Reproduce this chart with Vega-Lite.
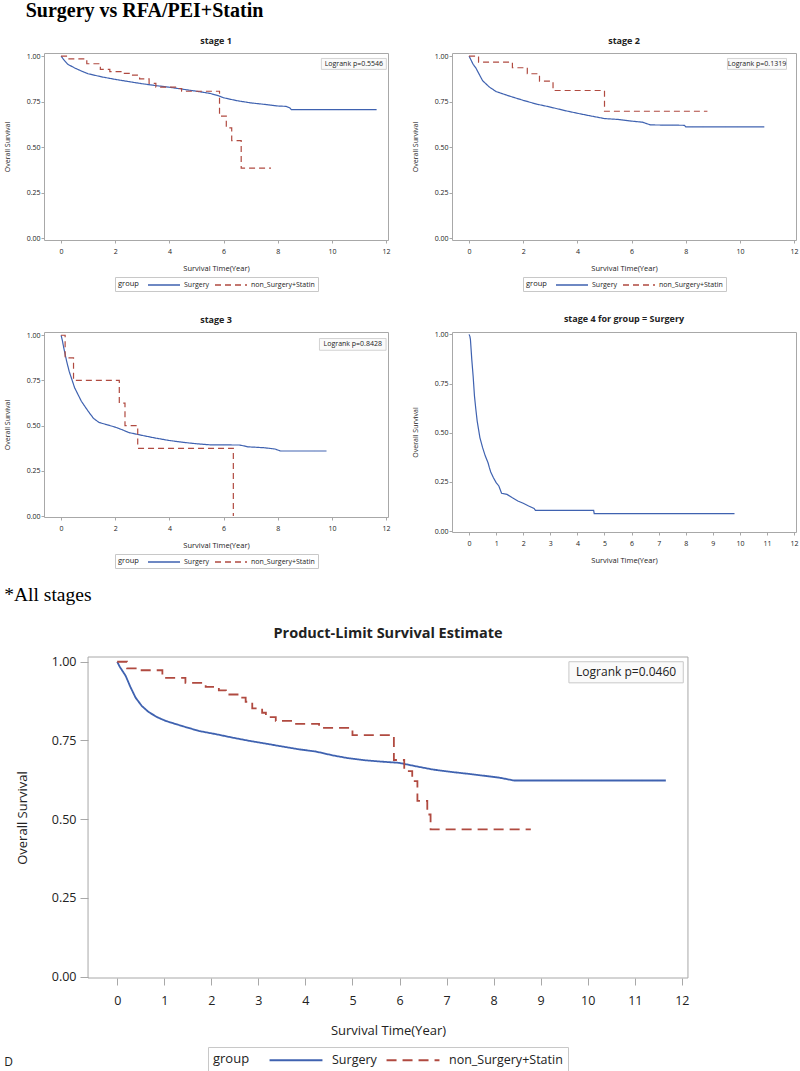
{
  "$schema": "https://vega.github.io/schema/vega-lite/v6.json",
  "padding": {"left": 2, "top": 0, "right": 0, "bottom": 0},
  "background": "white",
  "title": {"text": "Surgery vs RFA/PEI+Statin", "anchor": "start", "font": "Liberation Serif", "fontSize": 20, "fontWeight": "bold", "color": "#000", "dx": 23, "offset": 16},
  "config": {
    "font": "Open Sans",
    "view": {"stroke": "#a8a8a8", "strokeWidth": 1},
    "axis": {"domain": false, "grid": false, "tickColor": "#a8a8a8", "labelColor": "#222", "titleColor": "#222", "titleFontWeight": "normal", "labelFont": "Open Sans", "titleFont": "Open Sans"},
    "legend": {"layout": {"bottom": {"anchor": "middle"}}},
    "title": {"font": "Open Sans", "fontWeight": "bold", "color": "#222"}
  },
  "datasets": {
    "s1": [
      {"group": "Surgery", "t": 0, "s": 1}, {"group": "Surgery", "t": 0.1, "s": 0.98}, {"group": "Surgery", "t": 0.25, "s": 0.955}, {"group": "Surgery", "t": 0.5, "s": 0.935}, {"group": "Surgery", "t": 0.75, "s": 0.918}, {"group": "Surgery", "t": 1, "s": 0.903}, {"group": "Surgery", "t": 1.5, "s": 0.886}, {"group": "Surgery", "t": 2, "s": 0.872}, {"group": "Surgery", "t": 2.5, "s": 0.86}, {"group": "Surgery", "t": 3, "s": 0.848}, {"group": "Surgery", "t": 3.5, "s": 0.838}, {"group": "Surgery", "t": 4, "s": 0.829}, {"group": "Surgery", "t": 4.5, "s": 0.818}, {"group": "Surgery", "t": 5, "s": 0.807}, {"group": "Surgery", "t": 5.5, "s": 0.795}, {"group": "Surgery", "t": 5.8, "s": 0.783}, {"group": "Surgery", "t": 6, "s": 0.771}, {"group": "Surgery", "t": 6.5, "s": 0.755}, {"group": "Surgery", "t": 7, "s": 0.743}, {"group": "Surgery", "t": 7.5, "s": 0.735}, {"group": "Surgery", "t": 8, "s": 0.726}, {"group": "Surgery", "t": 8.3, "s": 0.724}, {"group": "Surgery", "t": 8.45, "s": 0.715}, {"group": "Surgery", "t": 8.5, "s": 0.706}, {"group": "Surgery", "t": 11.65, "s": 0.706},
      {"group": "non_Surgery+Statin", "t": 0, "s": 1}, {"group": "non_Surgery+Statin", "t": 0.25, "s": 0.985}, {"group": "non_Surgery+Statin", "t": 0.95, "s": 0.958}, {"group": "non_Surgery+Statin", "t": 1.45, "s": 0.927}, {"group": "non_Surgery+Statin", "t": 1.8, "s": 0.915}, {"group": "non_Surgery+Statin", "t": 2.3, "s": 0.905}, {"group": "non_Surgery+Statin", "t": 2.6, "s": 0.895}, {"group": "non_Surgery+Statin", "t": 2.9, "s": 0.875}, {"group": "non_Surgery+Statin", "t": 3.25, "s": 0.85}, {"group": "non_Surgery+Statin", "t": 3.5, "s": 0.83}, {"group": "non_Surgery+Statin", "t": 4.3, "s": 0.822}, {"group": "non_Surgery+Statin", "t": 4.45, "s": 0.807}, {"group": "non_Surgery+Statin", "t": 5.85, "s": 0.67}, {"group": "non_Surgery+Statin", "t": 6.1, "s": 0.606}, {"group": "non_Surgery+Statin", "t": 6.3, "s": 0.536}, {"group": "non_Surgery+Statin", "t": 6.65, "s": 0.385}, {"group": "non_Surgery+Statin", "t": 7.75, "s": 0.385}
    ],
    "s2": [
      {"group": "Surgery", "t": 0, "s": 1}, {"group": "Surgery", "t": 0.05, "s": 0.985}, {"group": "Surgery", "t": 0.15, "s": 0.955}, {"group": "Surgery", "t": 0.25, "s": 0.935}, {"group": "Surgery", "t": 0.5, "s": 0.865}, {"group": "Surgery", "t": 0.75, "s": 0.83}, {"group": "Surgery", "t": 1, "s": 0.805}, {"group": "Surgery", "t": 1.5, "s": 0.78}, {"group": "Surgery", "t": 2, "s": 0.757}, {"group": "Surgery", "t": 2.5, "s": 0.736}, {"group": "Surgery", "t": 3, "s": 0.72}, {"group": "Surgery", "t": 3.5, "s": 0.702}, {"group": "Surgery", "t": 4, "s": 0.686}, {"group": "Surgery", "t": 4.5, "s": 0.671}, {"group": "Surgery", "t": 5, "s": 0.657}, {"group": "Surgery", "t": 5.5, "s": 0.652}, {"group": "Surgery", "t": 6, "s": 0.643}, {"group": "Surgery", "t": 6.4, "s": 0.637}, {"group": "Surgery", "t": 6.7, "s": 0.622}, {"group": "Surgery", "t": 7.95, "s": 0.62}, {"group": "Surgery", "t": 8.0, "s": 0.611}, {"group": "Surgery", "t": 10.9, "s": 0.611},
      {"group": "non_Surgery+Statin", "t": 0, "s": 1}, {"group": "non_Surgery+Statin", "t": 0.35, "s": 0.967}, {"group": "non_Surgery+Statin", "t": 1.6, "s": 0.936}, {"group": "non_Surgery+Statin", "t": 2.15, "s": 0.903}, {"group": "non_Surgery+Statin", "t": 2.6, "s": 0.862}, {"group": "non_Surgery+Statin", "t": 3.1, "s": 0.811}, {"group": "non_Surgery+Statin", "t": 5.0, "s": 0.697}, {"group": "non_Surgery+Statin", "t": 8.8, "s": 0.697}
    ],
    "s3": [
      {"group": "Surgery", "t": 0, "s": 1}, {"group": "Surgery", "t": 0.05, "s": 0.97}, {"group": "Surgery", "t": 0.1, "s": 0.93}, {"group": "Surgery", "t": 0.2, "s": 0.86}, {"group": "Surgery", "t": 0.3, "s": 0.8}, {"group": "Surgery", "t": 0.4, "s": 0.755}, {"group": "Surgery", "t": 0.5, "s": 0.71}, {"group": "Surgery", "t": 0.75, "s": 0.635}, {"group": "Surgery", "t": 1.0, "s": 0.58}, {"group": "Surgery", "t": 1.2, "s": 0.54}, {"group": "Surgery", "t": 1.4, "s": 0.518}, {"group": "Surgery", "t": 1.7, "s": 0.505}, {"group": "Surgery", "t": 2, "s": 0.492}, {"group": "Surgery", "t": 2.3, "s": 0.475}, {"group": "Surgery", "t": 2.5, "s": 0.462}, {"group": "Surgery", "t": 3, "s": 0.446}, {"group": "Surgery", "t": 3.5, "s": 0.431}, {"group": "Surgery", "t": 4, "s": 0.418}, {"group": "Surgery", "t": 4.5, "s": 0.408}, {"group": "Surgery", "t": 5, "s": 0.4}, {"group": "Surgery", "t": 5.5, "s": 0.394}, {"group": "Surgery", "t": 6.6, "s": 0.393}, {"group": "Surgery", "t": 6.9, "s": 0.383}, {"group": "Surgery", "t": 7.5, "s": 0.378}, {"group": "Surgery", "t": 7.9, "s": 0.371}, {"group": "Surgery", "t": 8.1, "s": 0.36}, {"group": "Surgery", "t": 9.8, "s": 0.36},
      {"group": "non_Surgery+Statin", "t": 0, "s": 1}, {"group": "non_Surgery+Statin", "t": 0.15, "s": 0.875}, {"group": "non_Surgery+Statin", "t": 0.46, "s": 0.75}, {"group": "non_Surgery+Statin", "t": 2.15, "s": 0.625}, {"group": "non_Surgery+Statin", "t": 2.36, "s": 0.5}, {"group": "non_Surgery+Statin", "t": 2.83, "s": 0.375}, {"group": "non_Surgery+Statin", "t": 6.36, "s": 0}
    ],
    "s4": [
      {"group": "Surgery", "t": 0, "s": 1}, {"group": "Surgery", "t": 0.03, "s": 0.99}, {"group": "Surgery", "t": 0.05, "s": 0.975}, {"group": "Surgery", "t": 0.1, "s": 0.873}, {"group": "Surgery", "t": 0.15, "s": 0.788}, {"group": "Surgery", "t": 0.2, "s": 0.686}, {"group": "Surgery", "t": 0.25, "s": 0.619}, {"group": "Surgery", "t": 0.3, "s": 0.559}, {"group": "Surgery", "t": 0.35, "s": 0.517}, {"group": "Surgery", "t": 0.4, "s": 0.475}, {"group": "Surgery", "t": 0.5, "s": 0.424}, {"group": "Surgery", "t": 0.6, "s": 0.381}, {"group": "Surgery", "t": 0.7, "s": 0.347}, {"group": "Surgery", "t": 0.75, "s": 0.322}, {"group": "Surgery", "t": 0.8, "s": 0.3}, {"group": "Surgery", "t": 0.9, "s": 0.271}, {"group": "Surgery", "t": 1.0, "s": 0.246}, {"group": "Surgery", "t": 1.1, "s": 0.229}, {"group": "Surgery", "t": 1.2, "s": 0.192}, {"group": "Surgery", "t": 1.4, "s": 0.186}, {"group": "Surgery", "t": 1.6, "s": 0.169}, {"group": "Surgery", "t": 1.8, "s": 0.153}, {"group": "Surgery", "t": 2.0, "s": 0.141}, {"group": "Surgery", "t": 2.2, "s": 0.127}, {"group": "Surgery", "t": 2.4, "s": 0.115}, {"group": "Surgery", "t": 2.45, "s": 0.105}, {"group": "Surgery", "t": 4.6, "s": 0.105}, {"group": "Surgery", "t": 4.62, "s": 0.088}, {"group": "Surgery", "t": 9.8, "s": 0.088}
    ],
    "all": [
      {"group": "Surgery", "t": 0, "s": 1}, {"group": "Surgery", "t": 0.05, "s": 0.985}, {"group": "Surgery", "t": 0.18, "s": 0.955}, {"group": "Surgery", "t": 0.28, "s": 0.92}, {"group": "Surgery", "t": 0.39, "s": 0.886}, {"group": "Surgery", "t": 0.52, "s": 0.86}, {"group": "Surgery", "t": 0.67, "s": 0.84}, {"group": "Surgery", "t": 0.85, "s": 0.824}, {"group": "Surgery", "t": 1.03, "s": 0.812}, {"group": "Surgery", "t": 1.4, "s": 0.795}, {"group": "Surgery", "t": 1.74, "s": 0.78}, {"group": "Surgery", "t": 2.1, "s": 0.77}, {"group": "Surgery", "t": 2.45, "s": 0.759}, {"group": "Surgery", "t": 2.8, "s": 0.749}, {"group": "Surgery", "t": 3.16, "s": 0.74}, {"group": "Surgery", "t": 3.5, "s": 0.731}, {"group": "Surgery", "t": 3.86, "s": 0.722}, {"group": "Surgery", "t": 4.22, "s": 0.715}, {"group": "Surgery", "t": 4.57, "s": 0.703}, {"group": "Surgery", "t": 4.9, "s": 0.694}, {"group": "Surgery", "t": 5.28, "s": 0.687}, {"group": "Surgery", "t": 5.6, "s": 0.683}, {"group": "Surgery", "t": 5.99, "s": 0.679}, {"group": "Surgery", "t": 6.35, "s": 0.668}, {"group": "Surgery", "t": 6.7, "s": 0.658}, {"group": "Surgery", "t": 7.05, "s": 0.651}, {"group": "Surgery", "t": 7.41, "s": 0.645}, {"group": "Surgery", "t": 7.8, "s": 0.638}, {"group": "Surgery", "t": 8.12, "s": 0.632}, {"group": "Surgery", "t": 8.43, "s": 0.623}, {"group": "Surgery", "t": 11.66, "s": 0.623},
      {"group": "non_Surgery+Statin", "t": 0, "s": 1}, {"group": "non_Surgery+Statin", "t": 0.21, "s": 0.979}, {"group": "non_Surgery+Statin", "t": 0.45, "s": 0.973}, {"group": "non_Surgery+Statin", "t": 0.96, "s": 0.949}, {"group": "non_Surgery+Statin", "t": 1.45, "s": 0.933}, {"group": "non_Surgery+Statin", "t": 1.88, "s": 0.92}, {"group": "non_Surgery+Statin", "t": 2.16, "s": 0.909}, {"group": "non_Surgery+Statin", "t": 2.31, "s": 0.896}, {"group": "non_Surgery+Statin", "t": 2.59, "s": 0.886}, {"group": "non_Surgery+Statin", "t": 2.73, "s": 0.873}, {"group": "non_Surgery+Statin", "t": 2.87, "s": 0.852}, {"group": "non_Surgery+Statin", "t": 3.08, "s": 0.838}, {"group": "non_Surgery+Statin", "t": 3.16, "s": 0.824}, {"group": "non_Surgery+Statin", "t": 3.37, "s": 0.812}, {"group": "non_Surgery+Statin", "t": 3.73, "s": 0.803}, {"group": "non_Surgery+Statin", "t": 4.29, "s": 0.79}, {"group": "non_Surgery+Statin", "t": 5.0, "s": 0.767}, {"group": "non_Surgery+Statin", "t": 5.88, "s": 0.688}, {"group": "non_Surgery+Statin", "t": 6.1, "s": 0.653}, {"group": "non_Surgery+Statin", "t": 6.27, "s": 0.621}, {"group": "non_Surgery+Statin", "t": 6.38, "s": 0.558}, {"group": "non_Surgery+Statin", "t": 6.59, "s": 0.515}, {"group": "non_Surgery+Statin", "t": 6.66, "s": 0.468}, {"group": "non_Surgery+Statin", "t": 8.79, "s": 0.468}
    ]
  },
  "resolve": {"scale": {"color": "independent", "strokeDash": "independent"}},
  "spacing": 15,
  "vconcat": [
    {
      "spacing": 22,
      "resolve": {"scale": {"color": "independent", "strokeDash": "independent"}},
      "vconcat": [
        {
          "spacing": 19,
          "resolve": {"scale": {"color": "independent", "strokeDash": "independent"}},
          "hconcat": [
            {
              "width": 344, "height": 187,
              "title": {"text": "stage 1", "fontSize": 9, "offset": 6},
              "layer": [
                {"data": {"values": [{"label": "Logrank p=0.5546"}]}, "mark": {"type": "rect", "fill": "#fafafa", "stroke": "#c8c8c8", "strokeWidth": 0.8}, "encoding": {"x": {"datum": 9.61, "type": "quantitative", "title": "Survival Time(Year)"}, "x2": {"datum": 12.01}, "y": {"datum": 0.987, "type": "quantitative", "title": "Overall Survival"}, "y2": {"datum": 0.927}}},
                {"data": {"values": [{"label": "Logrank p=0.5546"}]}, "mark": {"type": "text", "fontSize": 7, "color": "#222"}, "encoding": {"x": {"datum": 10.81, "type": "quantitative", "title": "Survival Time(Year)"}, "y": {"datum": 0.957, "type": "quantitative", "title": "Overall Survival"}, "text": {"field": "label"}}},
                {"data": {"name": "s1"}, "transform": [{"filter": "datum.group === 'Surgery'"}], "mark": {"type": "line", "strokeWidth": 1.2}, "encoding": {
                  "x": {"field": "t", "type": "quantitative", "scale": {"domain": [-0.63, 12.07], "nice": false, "zero": false}, "axis": {"values": [0,1,2,3,4,5,6,7,8,9,10,11,12], "title": "Survival Time(Year)", "tickSize": 3, "labelPadding": 4, "labelFontSize": 7, "titleFontSize": 7.5, "titlePadding": 10, "labelFlush": false}},
                  "y": {"field": "s", "type": "quantitative", "scale": {"domain": [-0.01, 1.017], "nice": false, "zero": false}, "axis": {"values": [0, 0.25, 0.5, 0.75, 1], "format": ".2f", "title": "Overall Survival", "tickSize": 3, "labelPadding": 1, "labelFontSize": 7, "titleFontSize": 7, "titlePadding": 16}},
                  "color": {"field": "group", "type": "nominal", "scale": {"domain": ["Surgery", "non_Surgery+Statin"], "range": ["#3f62b0", "#b04a40"]}, "legend": {"orient": "bottom", "direction": "horizontal", "title": "group", "titleOrient": "left", "titleAnchor": "middle", "titleBaseline": "middle", "titleFontSize": 7.5, "titleFontWeight": "normal", "titleColor": "#222", "labelFontSize": 7, "labelColor": "#222", "symbolType": "M-4,0H4", "symbolSize": 64, "symbolStrokeWidth": 1.3, "strokeColor": "#c8c8c8", "padding": 3, "offset": 5, "columnPadding": 2, "labelOffset": 15, "titlePadding": 20}},
                  "strokeDash": {"field": "group", "type": "nominal", "scale": {"domain": ["Surgery", "non_Surgery+Statin"], "range": [[1, 0], [6, 4]]}, "legend": {"orient": "bottom", "direction": "horizontal", "title": "group", "titleOrient": "left", "titleAnchor": "middle", "titleBaseline": "middle", "titleFontSize": 7.5, "titleFontWeight": "normal", "titleColor": "#222", "labelFontSize": 7, "labelColor": "#222", "symbolType": "M-4,0H4", "symbolSize": 64, "symbolStrokeWidth": 1.3, "strokeColor": "#c8c8c8", "padding": 3, "offset": 5, "columnPadding": 2, "labelOffset": 15, "titlePadding": 20}}
                }},
                {"data": {"name": "s1"}, "transform": [{"filter": "datum.group !== 'Surgery'"}], "mark": {"type": "line", "strokeWidth": 1.2, "interpolate": "step-after"}, "encoding": {
                  "x": {"field": "t", "type": "quantitative"},
                  "y": {"field": "s", "type": "quantitative"},
                  "color": {"field": "group", "type": "nominal"},
                  "strokeDash": {"field": "group", "type": "nominal"}
                }}
              ]
            },
            {
              "width": 344, "height": 187,
              "title": {"text": "stage 2", "fontSize": 9, "offset": 6},
              "layer": [
                {"data": {"values": [{"label": "Logrank p=0.1319"}]}, "mark": {"type": "rect", "fill": "#fafafa", "stroke": "#c8c8c8", "strokeWidth": 0.8}, "encoding": {"x": {"datum": 9.54, "type": "quantitative", "title": "Survival Time(Year)"}, "x2": {"datum": 11.72}, "y": {"datum": 0.987, "type": "quantitative", "title": "Overall Survival"}, "y2": {"datum": 0.927}}},
                {"data": {"values": [{"label": "Logrank p=0.1319"}]}, "mark": {"type": "text", "fontSize": 7, "color": "#222"}, "encoding": {"x": {"datum": 10.63, "type": "quantitative", "title": "Survival Time(Year)"}, "y": {"datum": 0.957, "type": "quantitative", "title": "Overall Survival"}, "text": {"field": "label"}}},
                {"data": {"name": "s2"}, "transform": [{"filter": "datum.group === 'Surgery'"}], "mark": {"type": "line", "strokeWidth": 1.2}, "encoding": {
                  "x": {"field": "t", "type": "quantitative", "scale": {"domain": [-0.63, 12.07], "nice": false, "zero": false}, "axis": {"values": [0,1,2,3,4,5,6,7,8,9,10,11,12], "title": "Survival Time(Year)", "tickSize": 3, "labelPadding": 4, "labelFontSize": 7, "titleFontSize": 7.5, "titlePadding": 10, "labelFlush": false}},
                  "y": {"field": "s", "type": "quantitative", "scale": {"domain": [-0.01, 1.017], "nice": false, "zero": false}, "axis": {"values": [0, 0.25, 0.5, 0.75, 1], "format": ".2f", "title": "Overall Survival", "tickSize": 3, "labelPadding": 1, "labelFontSize": 7, "titleFontSize": 7, "titlePadding": 16}},
                  "color": {"field": "group", "type": "nominal", "scale": {"domain": ["Surgery", "non_Surgery+Statin"], "range": ["#3f62b0", "#b04a40"]}, "legend": {"orient": "bottom", "direction": "horizontal", "title": "group", "titleOrient": "left", "titleAnchor": "middle", "titleBaseline": "middle", "titleFontSize": 7.5, "titleFontWeight": "normal", "titleColor": "#222", "labelFontSize": 7, "labelColor": "#222", "symbolType": "M-4,0H4", "symbolSize": 64, "symbolStrokeWidth": 1.3, "strokeColor": "#c8c8c8", "padding": 3, "offset": 5, "columnPadding": 2, "labelOffset": 15, "titlePadding": 20}},
                  "strokeDash": {"field": "group", "type": "nominal", "scale": {"domain": ["Surgery", "non_Surgery+Statin"], "range": [[1, 0], [6, 4]]}, "legend": {"orient": "bottom", "direction": "horizontal", "title": "group", "titleOrient": "left", "titleAnchor": "middle", "titleBaseline": "middle", "titleFontSize": 7.5, "titleFontWeight": "normal", "titleColor": "#222", "labelFontSize": 7, "labelColor": "#222", "symbolType": "M-4,0H4", "symbolSize": 64, "symbolStrokeWidth": 1.3, "strokeColor": "#c8c8c8", "padding": 3, "offset": 5, "columnPadding": 2, "labelOffset": 15, "titlePadding": 20}}
                }},
                {"data": {"name": "s2"}, "transform": [{"filter": "datum.group !== 'Surgery'"}], "mark": {"type": "line", "strokeWidth": 1.2, "interpolate": "step-after"}, "encoding": {
                  "x": {"field": "t", "type": "quantitative"},
                  "y": {"field": "s", "type": "quantitative"},
                  "color": {"field": "group", "type": "nominal"},
                  "strokeDash": {"field": "group", "type": "nominal"}
                }}
              ]
            }
          ]
        },
        {
          "spacing": 19,
          "resolve": {"scale": {"color": "independent", "strokeDash": "independent"}},
          "hconcat": [
            {
              "width": 344, "height": 185,
              "title": {"text": "stage 3", "fontSize": 9, "offset": 6},
              "layer": [
                {"data": {"values": [{"label": "Logrank p=0.8428"}]}, "mark": {"type": "rect", "fill": "#fafafa", "stroke": "#c8c8c8", "strokeWidth": 0.8}, "encoding": {"x": {"datum": 9.54, "type": "quantitative", "title": "Survival Time(Year)"}, "x2": {"datum": 12.0}, "y": {"datum": 0.982, "type": "quantitative", "title": "Overall Survival"}, "y2": {"datum": 0.917}}},
                {"data": {"values": [{"label": "Logrank p=0.8428"}]}, "mark": {"type": "text", "fontSize": 7, "color": "#222"}, "encoding": {"x": {"datum": 10.77, "type": "quantitative", "title": "Survival Time(Year)"}, "y": {"datum": 0.95, "type": "quantitative", "title": "Overall Survival"}, "text": {"field": "label"}}},
                {"data": {"name": "s3"}, "transform": [{"filter": "datum.group === 'Surgery'"}], "mark": {"type": "line", "strokeWidth": 1.2}, "encoding": {
                  "x": {"field": "t", "type": "quantitative", "scale": {"domain": [-0.63, 12.07], "nice": false, "zero": false}, "axis": {"values": [0,1,2,3,4,5,6,7,8,9,10,11,12], "title": "Survival Time(Year)", "tickSize": 3, "labelPadding": 4, "labelFontSize": 7, "titleFontSize": 7.5, "titlePadding": 10, "labelFlush": false}},
                  "y": {"field": "s", "type": "quantitative", "scale": {"domain": [-0.005, 1.018], "nice": false, "zero": false}, "axis": {"values": [0, 0.25, 0.5, 0.75, 1], "format": ".2f", "title": "Overall Survival", "tickSize": 3, "labelPadding": 1, "labelFontSize": 7, "titleFontSize": 7, "titlePadding": 16}},
                  "color": {"field": "group", "type": "nominal", "scale": {"domain": ["Surgery", "non_Surgery+Statin"], "range": ["#3f62b0", "#b04a40"]}, "legend": {"orient": "bottom", "direction": "horizontal", "title": "group", "titleOrient": "left", "titleAnchor": "middle", "titleBaseline": "middle", "titleFontSize": 7.5, "titleFontWeight": "normal", "titleColor": "#222", "labelFontSize": 7, "labelColor": "#222", "symbolType": "M-4,0H4", "symbolSize": 64, "symbolStrokeWidth": 1.3, "strokeColor": "#c8c8c8", "padding": 3, "offset": 5, "columnPadding": 2, "labelOffset": 15, "titlePadding": 20}},
                  "strokeDash": {"field": "group", "type": "nominal", "scale": {"domain": ["Surgery", "non_Surgery+Statin"], "range": [[1, 0], [6, 4]]}, "legend": {"orient": "bottom", "direction": "horizontal", "title": "group", "titleOrient": "left", "titleAnchor": "middle", "titleBaseline": "middle", "titleFontSize": 7.5, "titleFontWeight": "normal", "titleColor": "#222", "labelFontSize": 7, "labelColor": "#222", "symbolType": "M-4,0H4", "symbolSize": 64, "symbolStrokeWidth": 1.3, "strokeColor": "#c8c8c8", "padding": 3, "offset": 5, "columnPadding": 2, "labelOffset": 15, "titlePadding": 20}}
                }},
                {"data": {"name": "s3"}, "transform": [{"filter": "datum.group !== 'Surgery'"}], "mark": {"type": "line", "strokeWidth": 1.2, "interpolate": "step-after"}, "encoding": {
                  "x": {"field": "t", "type": "quantitative"},
                  "y": {"field": "s", "type": "quantitative"},
                  "color": {"field": "group", "type": "nominal"},
                  "strokeDash": {"field": "group", "type": "nominal"}
                }}
              ]
            },
            {
              "width": 344, "height": 200,
              "title": {"text": "stage 4 for group = Surgery", "fontSize": 9, "offset": 6},
              "layer": [
                {"data": {"name": "s4"}, "mark": {"type": "line", "strokeWidth": 1.2}, "encoding": {
                  "x": {"field": "t", "type": "quantitative", "scale": {"domain": [-0.63, 12.07], "nice": false, "zero": false}, "axis": {"values": [0,1,2,3,4,5,6,7,8,9,10,11,12], "title": "Survival Time(Year)", "tickSize": 3, "labelPadding": 4, "labelFontSize": 7, "titleFontSize": 7.5, "titlePadding": 10, "labelFlush": false}},
                  "y": {"field": "s", "type": "quantitative", "scale": {"domain": [-0.005, 1.012], "nice": false, "zero": false}, "axis": {"values": [0, 0.25, 0.5, 0.75, 1], "format": ".2f", "title": "Overall Survival", "tickSize": 3, "labelPadding": 1, "labelFontSize": 7, "titleFontSize": 7, "titlePadding": 16}},
                  "color": {"field": "group", "type": "nominal", "scale": {"domain": ["Surgery"], "range": ["#3f62b0"]}, "legend": null}
                }}
              ]
            }
          ]
        }
      ]
    },
    {
      "title": {"text": "D", "orient": "bottom", "anchor": "start", "font": "Open Sans", "fontSize": 12, "fontWeight": "normal", "color": "#222", "offset": -16, "dx": 0},
      "resolve": {"scale": {"color": "independent", "strokeDash": "independent"}},
      "vconcat": [
        {
          "title": {"text": "*All stages", "anchor": "start", "font": "Liberation Serif", "fontSize": 19.5, "fontWeight": "normal", "color": "#000", "dx": -12, "offset": 21},
          "resolve": {"scale": {"color": "independent", "strokeDash": "independent"}},
          "vconcat": [
            {
              "width": 688, "height": 321,
              "view": {"stroke": null},
              "title": {"text": "Product-Limit Survival Estimate", "fontSize": 14.5, "offset": 14},
              "layer": [
                {"data": {"values": [{"label": "frame"}]}, "mark": {"type": "rect", "fill": "transparent", "stroke": "#a8a8a8", "strokeWidth": 1}, "encoding": {"x": {"datum": -0.62, "type": "quantitative", "title": "Survival Time(Year)"}, "x2": {"datum": 12.13}, "y": {"datum": -0.004, "type": "quantitative", "title": "Overall Survival"}, "y2": {"datum": 1.015}}},
                {"data": {"values": [{"label": "Logrank p=0.0460"}]}, "mark": {"type": "rect", "fill": "#fafafa", "stroke": "#c8c8c8", "strokeWidth": 1}, "encoding": {"x": {"datum": 9.6, "type": "quantitative", "title": "Survival Time(Year)"}, "x2": {"datum": 12.03}, "y": {"datum": 1.0, "type": "quantitative", "title": "Overall Survival"}, "y2": {"datum": 0.933}}},
                {"data": {"values": [{"label": "Logrank p=0.0460"}]}, "mark": {"type": "text", "fontSize": 12, "color": "#222"}, "encoding": {"x": {"datum": 10.815, "type": "quantitative", "title": "Survival Time(Year)"}, "y": {"datum": 0.966, "type": "quantitative", "title": "Overall Survival"}, "text": {"field": "label"}}},
                {"data": {"name": "all"}, "transform": [{"filter": "datum.group === 'Surgery'"}], "mark": {"type": "line", "strokeWidth": 1.8}, "encoding": {
                  "x": {"field": "t", "type": "quantitative", "scale": {"domain": [-1.556, 13.066], "nice": false, "zero": false}, "axis": {"values": [0,1,2,3,4,5,6,7,8,9,10,11,12], "title": "Survival Time(Year)", "tickSize": 7, "labelPadding": 9, "labelFontSize": 12.5, "titleFontSize": 13, "titlePadding": 18, "labelFlush": false}},
                  "y": {"field": "s", "type": "quantitative", "scale": {"domain": [-0.004, 1.015], "nice": false, "zero": false}, "axis": {"values": [0, 0.25, 0.5, 0.75, 1], "format": ".2f", "title": "Overall Survival", "offset": -44, "tickSize": 8, "labelPadding": 4, "labelFontSize": 12.5, "titleFontSize": 13, "titlePadding": 22}},
                  "color": {"field": "group", "type": "nominal", "scale": {"domain": ["Surgery", "non_Surgery+Statin"], "range": ["#3f62b0", "#b04a40"]}, "legend": {"orient": "bottom", "direction": "horizontal", "title": "group", "titleOrient": "left", "titleAnchor": "middle", "titleBaseline": "middle", "titleFontSize": 13, "titleFontWeight": "normal", "titleColor": "#222", "labelFontSize": 12.5, "labelColor": "#222", "symbolType": "M-4,0H4", "symbolSize": 175, "symbolStrokeWidth": 1.8, "strokeColor": "#c8c8c8", "padding": 5, "offset": 9, "columnPadding": 5, "labelOffset": 28, "titlePadding": 38}},
                  "strokeDash": {"field": "group", "type": "nominal", "scale": {"domain": ["Surgery", "non_Surgery+Statin"], "range": [[1, 0], [10, 6]]}, "legend": {"orient": "bottom", "direction": "horizontal", "title": "group", "titleOrient": "left", "titleAnchor": "middle", "titleBaseline": "middle", "titleFontSize": 13, "titleFontWeight": "normal", "titleColor": "#222", "labelFontSize": 12.5, "labelColor": "#222", "symbolType": "M-4,0H4", "symbolSize": 175, "symbolStrokeWidth": 1.8, "strokeColor": "#c8c8c8", "padding": 5, "offset": 9, "columnPadding": 5, "labelOffset": 28, "titlePadding": 38}}
                }},
                {"data": {"name": "all"}, "transform": [{"filter": "datum.group !== 'Surgery'"}], "mark": {"type": "line", "strokeWidth": 1.8, "interpolate": "step-after"}, "encoding": {
                  "x": {"field": "t", "type": "quantitative"},
                  "y": {"field": "s", "type": "quantitative"},
                  "color": {"field": "group", "type": "nominal"},
                  "strokeDash": {"field": "group", "type": "nominal"}
                }}
              ]
            }
          ]
        }
      ]
    }
  ]
}
